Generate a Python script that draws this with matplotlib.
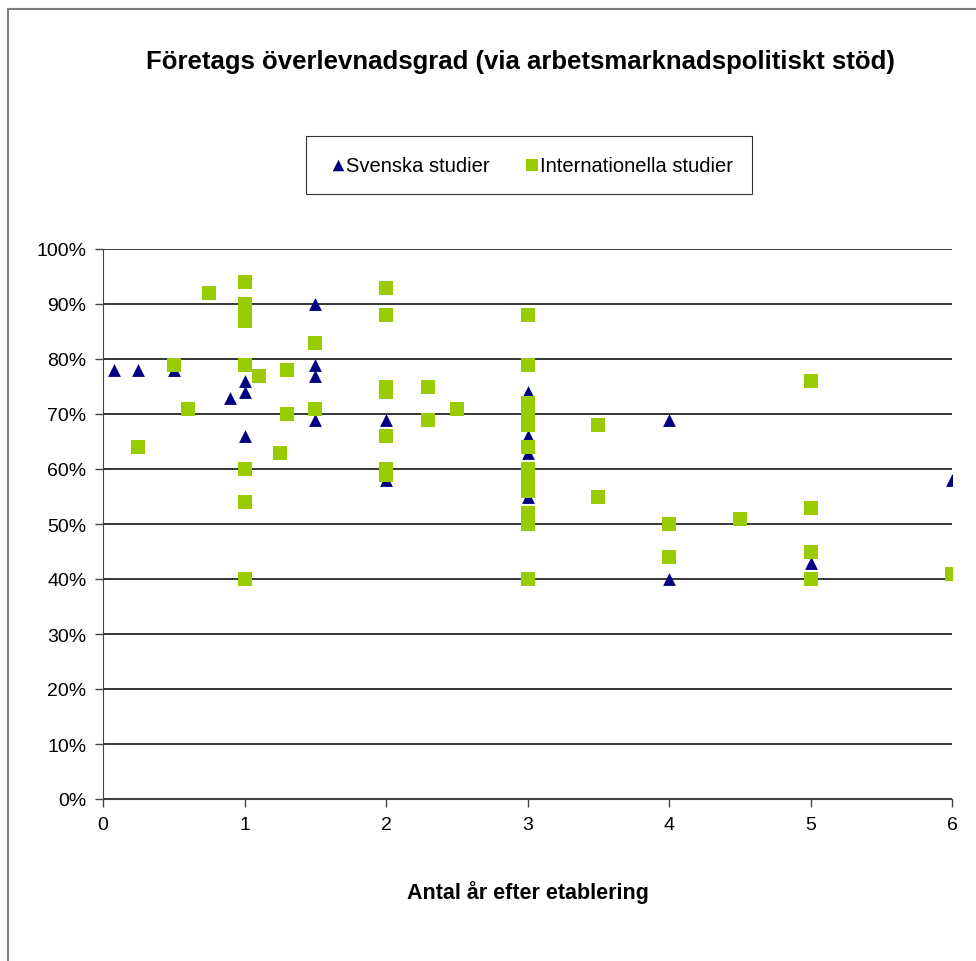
import numpy as np
import matplotlib
matplotlib.use('Agg')
import matplotlib.pyplot as plt
from matplotlib.patches import Rectangle
from matplotlib.ticker import FuncFormatter

plt.rcParams['font.family'] = ['Liberation Sans', 'DejaVu Sans']

# Svenska studier (triangles)
sv_x = [0.08, 0.25, 0.5, 0.9, 1, 1, 1, 1.5, 1.5, 1.5, 1.5, 2, 2, 3, 3, 3, 3, 4, 4, 5, 6]
sv_y = [78, 78, 78, 73, 76, 74, 66, 90, 79, 77, 69, 69, 58, 74, 66, 63, 55, 69, 40, 43, 58]

# Internationella studier (squares)
int_x = [0.25, 0.5, 0.6, 0.75,
         1, 1, 1, 1, 1, 1, 1, 1,
         1.1, 1.25, 1.3, 1.3,
         1.5, 1.5,
         2, 2, 2, 2, 2, 2, 2,
         2.3, 2.3, 2.5,
         3, 3, 3, 3, 3, 3, 3, 3, 3, 3, 3, 3, 3, 3, 3, 3,
         3.5, 3.5, 4, 4, 4.5,
         5, 5, 5, 5, 6]
int_y = [64, 79, 71, 92,
         94, 90, 88, 87, 79, 60, 54, 40,
         77, 63, 78, 70,
         83, 71,
         93, 88, 75, 74, 66, 60, 59,
         75, 69, 71,
         88, 79, 72, 71, 70, 69, 68, 64, 60, 59, 57, 56, 52, 51, 50, 40,
         68, 55, 50, 44, 51,
         76, 53, 45, 40, 41]

fig = plt.figure(figsize=(9.76, 9.62), dpi=100)
ax = fig.add_axes([103/976, 1-800/962, (952-103)/976, 550/962])

ax.scatter(sv_x, sv_y, marker='^', s=85, color='#000080', linewidths=0, zorder=3, label='Svenska studier')
ax.scatter(int_x, int_y, marker='s', s=95, color='#99CC00', linewidths=0, zorder=4, label='Internationella studier')

ax.set_xlim(0, 6)
ax.set_ylim(0, 100)
ax.set_xticks(range(0, 7))
ax.set_yticks(range(0, 101, 10))
ax.yaxis.set_major_formatter(FuncFormatter(lambda v, p: f'{int(v)}%'))
ax.grid(axis='y', color='black', linewidth=1.1)
ax.set_axisbelow(True)
for s in ['top', 'right']:
    ax.spines[s].set_visible(False)
ax.spines['left'].set_color('#444444')
ax.spines['bottom'].set_color('#444444')
ax.tick_params(direction='out', length=6, width=1, colors='#444444', labelcolor='black',
               labelsize=14, pad=6)

ax.set_xlabel('Antal år efter etablering', fontsize=15.5, fontweight='bold', labelpad=34)

fig.text(520/976, 1-62/962, 'Företags överlevnadsgrad (via arbetsmarknadspolitiskt stöd)',
         ha='center', va='center', fontsize=18.5, fontweight='bold')

leg = fig.legend(loc='center', bbox_to_anchor=(529/976, 1-166/962), ncol=2, frameon=True,
                 fancybox=False, edgecolor='black', fontsize=14.5, handletextpad=-0.2,
                 handlelength=1.2, columnspacing=1.5, borderpad=0.95, borderaxespad=0,
                 markerscale=0.9)
leg.get_frame().set_linewidth(0.8)

fig.patches.append(Rectangle((8/976, -0.1), 1.2, 1.1 - 10/962, transform=fig.transFigure,
                             fill=False, edgecolor='#808080', linewidth=1.5))

fig.savefig('out.png', dpi=100)
